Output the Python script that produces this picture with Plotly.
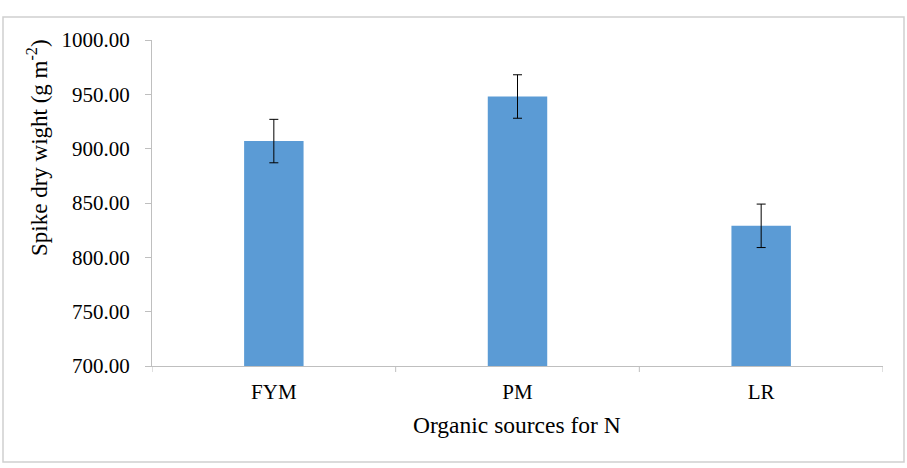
import plotly.graph_objects as go

categories = ["FYM", "PM", "LR"]
values = [907, 948, 829]
errors = [20, 20, 20]
y_ticks = [700, 750, 800, 850, 900, 950, 1000]

W, H = 907, 468
L, R, T, B = 152, 24, 40, 102
pw, ph = W - L - R, H - T - B

font_family = "Liberation Serif, Times New Roman, serif"

fig = go.Figure()
fig.add_trace(go.Bar(
    x=categories, y=values,
    marker=dict(color="#5B9BD5", line=dict(width=0)),
    width=0.244,
    error_y=dict(type="data", array=errors, visible=True, color="black", thickness=1, width=4.5),
))

fig.update_layout(
    width=W, height=H,
    margin=dict(l=L, r=R, t=T, b=B),
    paper_bgcolor="white", plot_bgcolor="white",
    font=dict(family=font_family, color="black", size=21),
    showlegend=False,
    xaxis=dict(
        range=[-0.5, 2.5],
        showline=True, linecolor="#BFBFBF", linewidth=1,
        ticks="", showgrid=False,
        tickfont=dict(size=21, family=font_family, color="black"),
        ticklabelstandoff=7,
    ),
    yaxis=dict(
        range=[700, 1000], tickvals=y_ticks, tickformat=".2f",
        showline=True, linecolor="#BFBFBF", linewidth=1,
        ticks="outside", ticklen=6, tickcolor="#BFBFBF",
        ticklabelstandoff=11,
        showgrid=False, zeroline=False,
        tickfont=dict(size=21, family=font_family, color="black"),
    ),
)

# axis titles
fig.add_annotation(text="Organic sources for N", xref="paper", yref="paper",
                   x=(517 - L) / pw, y=(H - B - 425) / ph, xanchor="center", yanchor="middle",
                   showarrow=False, font=dict(size=23.5, family=font_family, color="black"))
fig.add_annotation(text="Spike dry wight (g m<sup>-2</sup>)", xref="paper", yref="paper",
                   x=(37 - L) / pw, y=(H - B - 147) / ph, xanchor="center", yanchor="middle",
                   textangle=-90, showarrow=False,
                   font=dict(size=23, family=font_family, color="black"))

# category boundary ticks on x axis
for i in range(len(categories) + 1):
    xv = i - 0.5
    fig.add_shape(type="line", xref="x", yref="paper", x0=xv, x1=xv, y0=0, y1=-6 / ph,
                  line=dict(color="#BFBFBF", width=1))

# figure border
fig.add_shape(type="rect", xref="paper", yref="paper",
              x0=(3 - L) / pw, x1=(904 - L) / pw,
              y0=(H - B - 462) / ph, y1=(H - B - 17) / ph,
              line=dict(color="#D0D0D0", width=1.5), fillcolor="rgba(0,0,0,0)", layer="below")

fig.write_html("out.html")
